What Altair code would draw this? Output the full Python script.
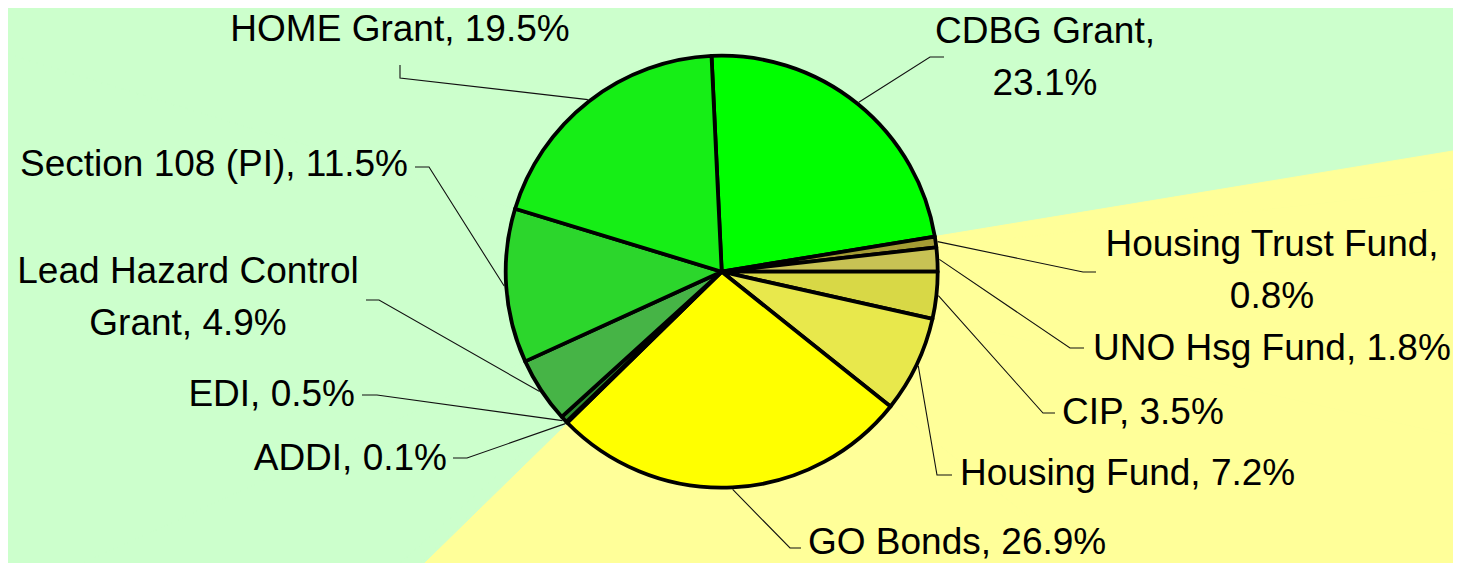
import math
import altair as alt
import pandas as pd

# ---------------- data ----------------
categories = ["CDBG Grant", "Housing Trust Fund", "UNO Hsg Fund", "CIP", "Housing Fund",
              "GO Bonds", "ADDI", "EDI", "Lead Hazard Control Grant", "Section 108 (PI)", "HOME Grant"]
shares = [23.1, 0.8, 1.8, 3.5, 7.2, 26.9, 0.1, 0.5, 4.9, 11.5, 19.5]
label_texts = ["CDBG Grant,\n23.1%", "Housing Trust Fund,\n0.8%", "UNO Hsg Fund, 1.8%", "CIP, 3.5%",
               "Housing Fund, 7.2%", "GO Bonds, 26.9%", "ADDI, 0.1%", "EDI, 0.5%",
               "Lead Hazard Control\nGrant, 4.9%", "Section 108 (PI), 11.5%", "HOME Grant, 19.5%"]

# ---------------- styles ----------------
slice_colors = ["#00FF00", "#A49C34", "#C8C254", "#D8D846", "#E8E84C", "#FFFF00",
                "#222222", "#2E8B2E", "#46B446", "#2CD62C", "#16EE16"]
bg_colors = ["#CCFFCC", "#FFFF99", "#FFFF99", "#FFFF99", "#FFFF99", "#FFFF99",
             "#CCFFCC", "#CCFFCC", "#CCFFCC", "#CCFFCC", "#CCFFCC"]

# ---------------- layout (page pixels) ----------------
W, H = 1445, 555
CX, CY = 721.7, 271.7          # pie centre on page
R = 216                         # pie radius
START_DEG = -2.7                # first slice starts slightly left of 12 o'clock
label_x = [1045, 1272, 1093, 1062, 960, 808, 447, 355, 188, 408, 400]
label_y = [32, 245, 349, 413, 474, 543, 459, 395, 272, 165, 30]
label_align = ["center", "center", "left", "left", "left", "left", "right", "right", "center", "right", "center"]
elbow_x = [930, 1083, 1070, 1043, 937, 790, 467, 377, 379, 429, 400]
elbow_y = [57, 272, 348, 413, 475, 548, 458, 395, 300, 167, 78]
stub_x = [944, 1096, 1084, 1055, 952, 801, 453, 362, 366, 415, 400]
stub_y = [57, 272, 348, 413, 475, 548, 458, 395, 300, 167, 65]

total = sum(shares)
a0 = math.radians(START_DEG)

df = pd.DataFrame({
    "cat": categories,
    "share": shares,
    "idx": list(range(len(categories))),
    "color": slice_colors,
    "bg": bg_colors,
})

# leader lines: anchor on pie edge at slice mid-angle -> elbow -> stub
rows = []
cum = 0.0
for i, (c, s) in enumerate(zip(categories, shares)):
    mid = a0 + 2 * math.pi * (cum + s / 2) / total
    cum += s
    ax = CX + (R + 2) * math.sin(mid)
    ay = CY - (R + 2) * math.cos(mid)
    rows.append({"cat": c, "step": 0, "px": ax, "py": ay})
    rows.append({"cat": c, "step": 1, "px": elbow_x[i], "py": elbow_y[i]})
    rows.append({"cat": c, "step": 2, "px": stub_x[i], "py": stub_y[i]})
leaders = pd.DataFrame(rows)

labels = pd.DataFrame({"cat": categories, "text": label_texts, "lx": label_x,
                       "ly": label_y, "align": label_align})

xs = alt.Scale(domain=[8, 8 + W], zero=False, nice=False)
ys = alt.Scale(domain=[8, 8 + H], zero=False, nice=False, reverse=True)
theta_scale = alt.Scale(range=[a0, a0 + 2 * math.pi])

base = alt.Chart(df)

background = base.mark_arc(radius=2500, clip=True, strokeWidth=1).encode(
    theta=alt.Theta("share:Q", stack=True, scale=theta_scale),
    order=alt.Order("idx:Q", sort="ascending"),
    fill=alt.Fill("bg:N", scale=None),
    stroke=alt.Stroke("bg:N", scale=None),
    x=alt.value(CX - 8),
    y=alt.value(CY - 8),
)

pie = base.mark_arc(radius=R, stroke="black", strokeWidth=3.8, strokeJoin="round").encode(
    theta=alt.Theta("share:Q", stack=True, scale=theta_scale),
    order=alt.Order("idx:Q", sort="ascending"),
    fill=alt.Fill("color:N", scale=None),
    x=alt.value(CX - 8),
    y=alt.value(CY - 8),
)

lines = alt.Chart(leaders).mark_line(color="#111111", strokeWidth=1.1).encode(
    x=alt.X("px:Q", scale=xs, axis=None),
    y=alt.Y("py:Q", scale=ys, axis=None),
    detail="cat:N",
    order=alt.Order("step:Q"),
)

text_layers = []
for al in ["left", "center", "right"]:
    text_layers.append(
        alt.Chart(labels).transform_filter(alt.datum.align == al).mark_text(
            align=al, baseline="middle", font="Liberation Sans", fontSize=37,
            lineBreak="\n", lineHeight=52, color="black",
        ).encode(
            x=alt.X("lx:Q", scale=xs, axis=None),
            y=alt.Y("ly:Q", scale=ys, axis=None),
            text="text:N",
        )
    )

chart = alt.layer(background, pie, lines, *text_layers).properties(
    width=W, height=H,
    autosize=alt.AutoSizeParams(type="none"),
    padding=0,
    background="#CCFFCC",
).configure_view(strokeWidth=0, fill="#CCFFCC")

chart.save("out.html", embed_options={"renderer": "svg", "actions": False})
